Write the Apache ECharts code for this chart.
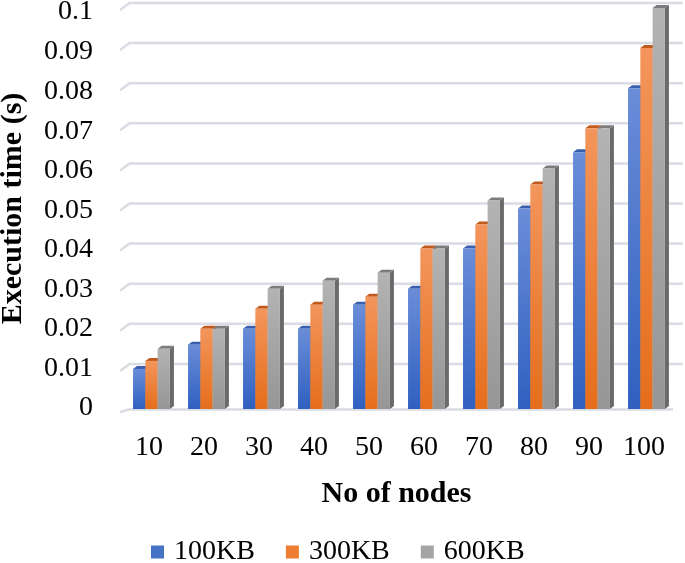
<!DOCTYPE html>
<html>
<head>
<meta charset="utf-8">
<script src="https://cdn.jsdelivr.net/npm/echarts@6/dist/echarts.min.js"></script>
<style>html,body{margin:0;padding:0;background:#fff}#c{width:685px;height:563px}</style>
</head>
<body>
<div id="c"></div>
<script>
const categories = ['10','20','30','40','50','60','70','80','90','100'];
const s100KB = [0.010,0.016,0.020,0.020,0.026,0.030,0.040,0.050,0.064,0.080];
const s300KB = [0.012,0.020,0.025,0.026,0.028,0.040,0.046,0.056,0.070,0.090];
const s600KB = [0.015,0.020,0.030,0.032,0.034,0.040,0.052,0.060,0.070,0.100];
const yTicks = [0,0.01,0.02,0.03,0.04,0.05,0.06,0.07,0.08,0.09,0.1];

const FONT = "'Liberation Serif','Times New Roman',serif";
const styles = [
  {front:['#6a8dd8','#2f60c0'], top:'#3a5fae', side:'#27498f', legend:'#4472c4'},
  {front:['#f3955c','#e56e1b'], top:'#c25a1d', side:'#a84b14', legend:'#ed7d31'},
  {front:['#b3b3b3','#969696'], top:'#7c7c7c', side:'#6a6a6a', legend:'#a5a5a5'}
];

const chart = echarts.init(document.getElementById('c'));

function barRender(si) {
  const st = styles[si];
  return function (params, api) {
    const idx = api.value(0), v = api.value(1);
    const top = api.coord([idx, v]);
    const bot = api.coord([idx, 0]);
    const band = api.size([1, 0])[0];
    const w = band * 0.2236;
    const dx = 4, dy = 3;
    const x = top[0] - 1.5 * w + si * w + band * 0.045;
    const yT = top[1], yB = bot[1];
    return {
      type: 'group',
      children: [
        {type:'polygon', shape:{points:[[x+w,yT],[x+w+dx,yT-dy],[x+w+dx,yB-dy],[x+w,yB]]},
         style:{fill:st.side}},
        {type:'polygon', shape:{points:[[x,yT],[x+dx,yT-dy],[x+w+dx,yT-dy],[x+w,yT]]},
         style:{fill:st.top}},
        {type:'rect', shape:{x:x, y:yT, width:w, height:yB-yT},
         style:{fill:new echarts.graphic.LinearGradient(0,0,0,1,[{offset:0,color:st.front[0]},{offset:1,color:st.front[1]}])}}
      ]
    };
  };
}

function gridRender(params, api) {
  const v = api.value(0);
  const cs = params.coordSys;
  const y = api.coord([0, v])[1];
  let pts;
  if (v === 0) {
    pts = [[cs.x - 1.5, y + 3], [cs.x + 7, y + 0.5], [cs.x + cs.width + 1.5, y + 0.5]];
  } else {
    pts = [[cs.x - 1.5, y + 2], [cs.x + 8, y - 5], [cs.x + cs.width + 11.5, y - 5]];
  }
  return {type:'polyline', shape:{points:pts}, style:{stroke:'#d9dce3', lineWidth:2.5, fill:null}};
}

// per-tick label nudges (3D wall perspective places labels slightly off the front plane)
const rich = {};
yTicks.forEach((t, i) => {
  const off = Math.round(-1 + 50 * t);
  rich['t' + i] = off >= 0
    ? {fontFamily:FONT, fontSize:28, color:'#000', padding:[2*off,0,0,0]}
    : {fontFamily:FONT, fontSize:28, color:'#000', padding:[0,0,-2*off,0]};
});

const series = [
  {type:'custom', name:'grid', z:1, silent:true, renderItem:gridRender,
   data: yTicks.map(t => [t]), encode:{y:0}, itemStyle:{color:'#d9dce3'}},
  {type:'custom', name:'100KB', z:2, renderItem:barRender(0), data:s100KB.map((v,i)=>[i,v]), encode:{x:0,y:1}, itemStyle:{color:styles[0].legend}},
  {type:'custom', name:'300KB', z:3, renderItem:barRender(1), data:s300KB.map((v,i)=>[i,v]), encode:{x:0,y:1}, itemStyle:{color:styles[1].legend}},
  {type:'custom', name:'600KB', z:4, renderItem:barRender(2), data:s600KB.map((v,i)=>[i,v]), encode:{x:0,y:1}, itemStyle:{color:styles[2].legend}}
];

chart.setOption({
  animation:false,
  backgroundColor:'#fff',
  grid:{left:121.5, right:13.5, top:8, bottom:154, containLabel:false, outerBoundsMode:'none'},
  legend:{
    data:['100KB','300KB','600KB'], left:146, top:533, icon:'rect', itemWidth:13, itemHeight:13, itemGap:31,
    textStyle:{fontFamily:FONT, fontSize:28, color:'#000', padding:[0,0,0,5]}
  },
  xAxis:{
    type:'category', data:categories,
    axisLine:{show:false}, axisTick:{show:false}, splitLine:{show:false},
    axisLabel:{margin:25, fontFamily:FONT, fontSize:28, color:'#000'},
    name:'No of nodes', nameLocation:'middle', nameGap:70,
    nameTextStyle:{fontFamily:FONT, fontSize:30, fontWeight:'bold', color:'#000'}
  },
  yAxis:{
    type:'value', min:0, max:0.1, interval:0.01,
    axisLine:{show:false}, axisTick:{show:false}, splitLine:{show:false},
    axisLabel:{margin:28.5, fontFamily:FONT, fontSize:28, color:'#000',
      formatter:v=>{
        const i = yTicks.findIndex(t => Math.abs(t - v) < 1e-9);
        return '{t' + i + '|' + String(+v.toFixed(2)) + '}';
      }, rich:rich},
    name:'Execution time (s)', nameLocation:'middle', nameGap:93,
    nameTextStyle:{fontFamily:FONT, fontSize:30, fontWeight:'bold', color:'#000'}
  },
  series:series
});
</script>
</body>
</html>
